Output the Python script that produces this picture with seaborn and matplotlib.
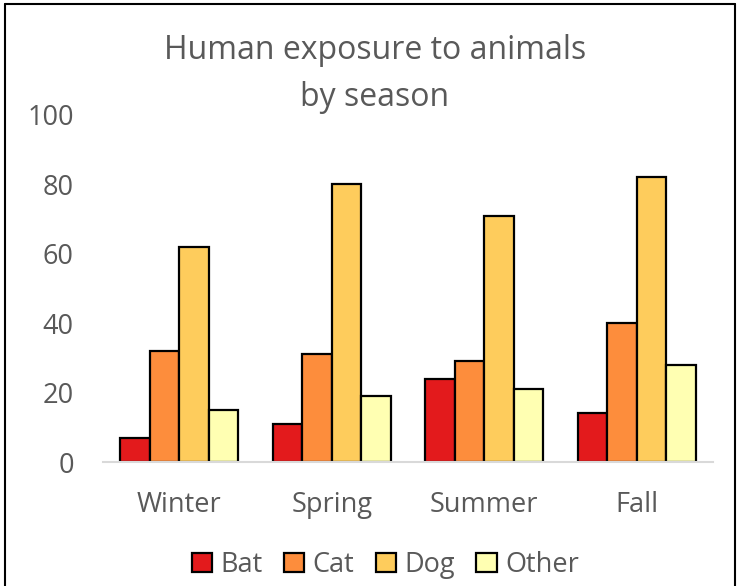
import numpy as np
import pandas as pd
import matplotlib
matplotlib.use("Agg")
import matplotlib.pyplot as plt
import seaborn as sns
from matplotlib.patches import Patch

seasons = ["Winter", "Spring", "Summer", "Fall"]
animals = ["Bat", "Cat", "Dog", "Other"]
bat = [7, 11, 24, 14]
cat = [32, 31, 29, 40]
dog = [62, 80, 71, 82]
other = [15, 19, 21, 28]
colors = ["#E31A1C", "#FD8D3C", "#FECC5C", "#FFFFB2"]

df = pd.DataFrame({
    "season": seasons * 4,
    "animal": [a for a in animals for _ in seasons],
    "value": bat + cat + dog + other,
})

sns.set_style("white")
plt.rcParams['font.family'] = ['Open Sans', 'DejaVu Sans']
grey = "#595959"

fig = plt.figure(figsize=(7.38, 5.86), dpi=100)
ax = fig.add_axes([0.1396, 0.2116, 0.8266, 0.5922])

sns.barplot(data=df, x="season", y="value", hue="animal", order=seasons,
            hue_order=animals, palette=colors, saturation=1, width=0.775,
            gap=0, edgecolor="black", linewidth=1.6, ax=ax, legend=False)

ax.set_ylim(0, 100)
ax.set_yticks([0, 20, 40, 60, 80, 100])
ax.set_xlim(-0.5, 3.5)
ax.set_xlabel("")
ax.set_ylabel("")
for s in ["top", "right", "left"]:
    ax.spines[s].set_visible(False)
ax.spines["bottom"].set_color("#d9d9d9")
ax.spines["bottom"].set_linewidth(1.5)
ax.tick_params(axis="both", length=0, labelsize=19.5, labelcolor=grey)
ax.tick_params(axis="x", pad=21)
ax.tick_params(axis="y", pad=21)

fig.text(0.508, 0.913, "Human exposure to animals", ha="center", va="center",
         fontsize=23, color=grey)
fig.text(0.508, 0.833, "by season", ha="center", va="center",
         fontsize=23, color=grey)

handles = [Patch(facecolor=c, edgecolor="black", linewidth=1.6) for c in colors]
fig.legend(handles, animals, loc="center", bbox_to_anchor=(0.522, 0.036),
           ncol=4, frameon=False, fontsize=19.5, labelcolor=grey,
           handlelength=0.75, handleheight=0.75, handletextpad=0.3,
           columnspacing=0.8)

# outer border
fig.add_artist(plt.Line2D([0.007, 0.007], [0.0, 0.993], color="black", lw=1.5,
                          transform=fig.transFigure))
fig.add_artist(plt.Line2D([0.007, 0.996], [0.993, 0.993], color="black", lw=1.5,
                          transform=fig.transFigure))
fig.add_artist(plt.Line2D([0.996, 0.996], [0.0, 0.993], color="black", lw=1.5,
                          transform=fig.transFigure))

fig.savefig("out.png", dpi=100)
